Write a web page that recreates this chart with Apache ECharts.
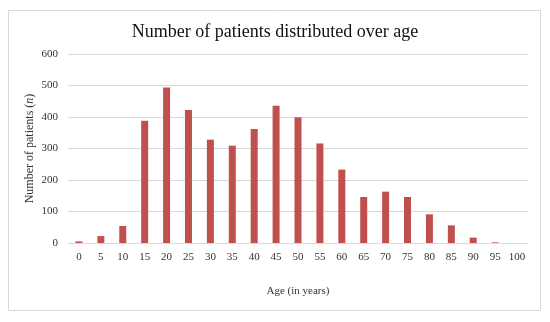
<!DOCTYPE html>
<html><head><meta charset="utf-8">
<script src="https://cdn.jsdelivr.net/npm/echarts@6/dist/echarts.min.js"></script>
<style>html,body{margin:0;padding:0;background:#fff}#c{width:550px;height:322px}</style>
</head><body><div id="c"></div>
<script>
const ages = ['0','5','10','15','20','25','30','35','40','45','50','55','60','65','70','75','80','85','90','95','100'];
const patients = [5,22,54,388,494,422,328,309,362,436,399,316,233,146,163,146,91,56,17,2,0];
const yTicks = [0,100,200,300,400,500,600];

const chart = echarts.init(document.getElementById('c'), null, {renderer:'canvas'});
const serif = '"Liberation Serif","Times New Roman",serif';
chart.setOption({
  animation:false,
  graphic:[{type:'rect',shape:{x:8.5,y:10.5,width:532,height:300},style:{fill:'none',stroke:'#d9d9d9',lineWidth:1}}],
  title:{text:'Number of patients distributed over age',left:'center',top:18,
    textStyle:{fontFamily:serif,fontSize:18,fontWeight:'normal',color:'#111'}},
  grid:{left:68,right:22,top:54,bottom:79},
  xAxis:{type:'category',data:ages,
    axisLine:{lineStyle:{color:'#d9d9d9'}},axisTick:{show:false},
    axisLabel:{fontFamily:serif,fontSize:11,color:'#333',margin:9,interval:0},
    name:'Age (in years)',nameLocation:'middle',nameGap:43,nameMoveOverlap:false,
    nameTextStyle:{fontFamily:serif,fontSize:11,color:'#333'}},
  yAxis:{type:'value',min:yTicks[0],max:yTicks[yTicks.length-1],interval:100,
    axisLine:{show:false},axisTick:{show:false},
    splitLine:{lineStyle:{color:'#d9d9d9'}},
    axisLabel:{fontFamily:serif,fontSize:11,color:'#333',margin:10},
    name:'Number of patients ({i|n})',nameLocation:'middle',nameGap:32,nameMoveOverlap:false,
    nameTextStyle:{fontFamily:serif,fontSize:12,color:'#333',rich:{i:{fontFamily:serif,fontSize:12,fontStyle:'italic',color:'#333'}}}},
  series:[{type:'bar',data:patients,barWidth:7,itemStyle:{color:'#C0504D'}}]
});
</script></body></html>
